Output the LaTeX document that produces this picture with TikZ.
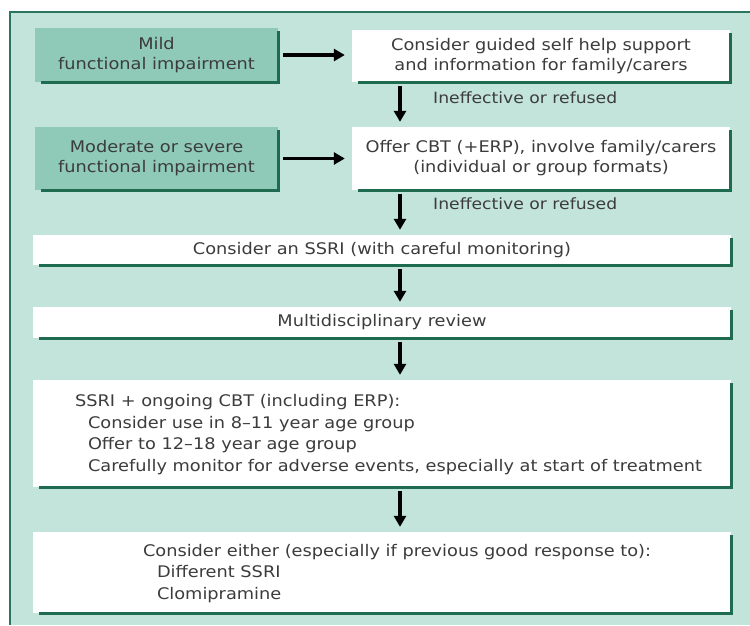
\documentclass[tikz,border=0pt]{standalone}
\usepackage{fontspec}
\setmainfont{DejaVu Sans}[FakeStretch=1.11]
\usetikzlibrary{arrows.meta,calc}
\definecolor{framefill}{HTML}{C3E4DA}
\definecolor{framedark}{HTML}{2A7560}
\definecolor{tealbox}{HTML}{8FC9B7}
\definecolor{shadowgreen}{HTML}{1F6B50}
\definecolor{txt}{HTML}{3C3C3C}
\tikzset{
  box/.style={draw=none, fill=white, inner sep=0pt, align=center, text=txt,
    font=\fontsize{16}{20}\selectfont},
  greenbox/.style={box, fill=tealbox},
  shadowline/.style={draw=shadowgreen, line width=3pt},
  arr/.style={line width=3.4pt, -{Triangle[length=11pt,width=12pt]}},
  lbl/.style={anchor=west, text=txt, font=\fontsize{15.5}{18}\selectfont, inner sep=0pt},
  listtext/.style={anchor=west, text=txt, align=left, inner sep=0pt,
    font=\fontsize{16}{21.5}\selectfont},
}
\newcommand\boxshadow[1]{\draw[shadowline] ([xshift=6pt]#1.south west) -- (#1.south east) -- ([yshift=-3pt]#1.north east);}
\begin{document}
\begin{tikzpicture}[x=1pt,y=-1pt]
\useasboundingbox (0,0) rectangle (750,625);
\fill[white] (0,0) rectangle (750,625);
\fill[framefill] (10,12) rectangle (750,625);
\draw[framedark, line width=2pt] (10,625) -- (10,12) -- (750,12);

\node[greenbox, minimum width=243pt, minimum height=54pt] (mild) at (156.5,55) {Mild\\functional impairment};
\node[greenbox, minimum width=243pt, minimum height=63pt] (moderate) at (156.5,158.5) {Moderate or severe\\functional impairment};
\node[box, minimum width=378pt, minimum height=52pt] (guided) at (541,56) {Consider guided self help support\\and information for family/carers};
\node[box, minimum width=378pt, minimum height=63pt] (cbt) at (541,158.5) {Offer CBT (+ERP), involve family/carers\\(individual or group formats)};
\node[box, minimum width=698pt, minimum height=30pt] (ssri) at (382,250) {Consider an SSRI (with careful monitoring)};
\node[box, minimum width=698pt, minimum height=31pt] (mdr) at (382,322.5) {Multidisciplinary review};
\node[box, minimum width=698pt, minimum height=107pt] (combo) at (382,433.5) {};
\node[box, minimum width=698pt, minimum height=81pt] (last) at (382,572.5) {};

\node[listtext] (combotext) at ([xshift=42pt,yshift=-1pt]combo.west) {SSRI + ongoing CBT (including ERP):\\
\hspace*{13pt}Consider use in 8–11 year age group\\
\hspace*{13pt}Offer to 12–18 year age group\\
\hspace*{13pt}Carefully monitor for adverse events, especially at start of treatment};
\node[listtext] (lasttext) at ([xshift=110pt,yshift=-1pt]last.west) {Consider either (especially if previous good response to):\\
\hspace*{14pt}Different SSRI\\
\hspace*{14pt}Clomipramine};

\boxshadow{mild}
\boxshadow{moderate}
\boxshadow{guided}
\boxshadow{cbt}
\boxshadow{ssri}
\boxshadow{mdr}
\boxshadow{combo}
\boxshadow{last}

\coordinate (ax) at (400,0);
\draw[arr, shorten <=5pt, shorten >=7pt] (mild.east) -- (mild.east -| guided.west);
\draw[arr, shorten <=5pt, shorten >=7pt] (moderate.east) -- (moderate.east -| cbt.west);
\draw[arr, shorten <=4pt, shorten >=5pt] (guided.south -| ax) -- (cbt.north -| ax);
\draw[arr, shorten <=4pt, shorten >=5pt] (cbt.south -| ax) -- (ssri.north -| ax);
\draw[arr, shorten <=4pt, shorten >=5pt] (ssri.south -| ax) -- (mdr.north -| ax);
\draw[arr, shorten <=4pt, shorten >=5pt] (mdr.south -| ax) -- (combo.north -| ax);
\draw[arr, shorten <=4pt, shorten >=5pt] (combo.south -| ax) -- (last.north -| ax);

\node[lbl] (lbl1) at (433,98) {Ineffective or refused};
\node[lbl] (lbl2) at (433,204) {Ineffective or refused};
\end{tikzpicture}
\end{document}
